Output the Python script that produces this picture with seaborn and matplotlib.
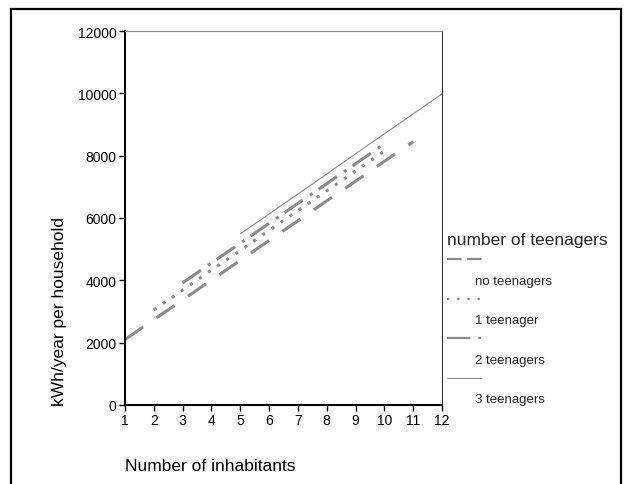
import matplotlib
matplotlib.use("Agg")
import matplotlib.pyplot as plt
from matplotlib.lines import Line2D
from matplotlib.patches import Rectangle
import seaborn as sns
import pandas as pd

# ---- data ----
inhabitants_none = [1, 2, 3, 4, 5, 6, 7, 8, 9, 10, 11]
kwh_none = [2100, 2740, 3370, 4010, 4640, 5280, 5910, 6550, 7180, 7820, 8450]

inhabitants_one = [2, 3, 4, 5, 6, 7, 8, 9, 10]
kwh_one = [3050, 3690, 4330, 4960, 5600, 6240, 6870, 7510, 8150]

inhabitants_two = [3, 4, 5, 6, 7, 8, 9, 10]
kwh_two = [3920, 4560, 5190, 5830, 6470, 7100, 7740, 8380]

inhabitants_three = [5, 6, 7, 8, 9, 10, 11, 12]
kwh_three = [5490, 6130, 6770, 7410, 8060, 8700, 9340, 9980]

series_labels = ["no teenagers", "1 teenager", "2 teenagers", "3 teenagers"]
x_ticks = list(range(1, 13))
y_ticks = [0, 2000, 4000, 6000, 8000, 10000, 12000]

sns.set_theme(style="white")
plt.rcParams["font.family"] = ["Liberation Sans", "DejaVu Sans"]

fig = plt.figure(figsize=(6.26, 4.85), dpi=100)
ax = fig.add_axes([125 / 626, 1 - 406 / 485, (442 - 125) / 626, (406 - 32) / 485])

gray = "#8a8a8a"
styles = [
    dict(lw=2.2, dashes=(7.2, 5.3)),
    dict(lw=2.2, dashes=(1.0, 2.6)),
    dict(lw=2.2, dashes=(7.3, 2.8, 1.0, 2.4)),
    dict(lw=0.8, dashes=None),
]
xs = [inhabitants_none, inhabitants_one, inhabitants_two, inhabitants_three]
ys = [kwh_none, kwh_one, kwh_two, kwh_three]

for xv, yv, lab, st in zip(xs, ys, series_labels, styles):
    df = pd.DataFrame({"Number of inhabitants": xv, "kWh": yv})
    sns.lineplot(data=df, x="Number of inhabitants", y="kWh", ax=ax,
                 color=gray, linewidth=st["lw"], legend=False)
    line = ax.lines[-1]
    line.set_solid_capstyle("butt")
    line.set_dash_capstyle("butt")
    if st["dashes"] is not None:
        line.set_dashes(st["dashes"])

ax.set_xlim(1, 12)
ax.set_ylim(0, 12000)
ax.set_xticks(x_ticks)
ax.set_xticklabels([str(t) for t in x_ticks])
ax.set_yticks(y_ticks)
ax.set_yticklabels([str(t) for t in y_ticks])
ax.tick_params(axis="both", which="major", direction="out", length=4, width=1,
               colors="black", labelsize=10, pad=2, bottom=True, left=True)

for side in ["left", "bottom"]:
    ax.spines[side].set_color("black")
    ax.spines[side].set_linewidth(1.5)
ax.spines["top"].set_color("#888888")
ax.spines["top"].set_linewidth(0.8)
ax.spines["right"].set_color("#333333")
ax.spines["right"].set_linewidth(0.8)

ax.set_xlabel("Number of inhabitants", fontsize=12.5, loc="left", labelpad=22, color="black")
ax.set_ylabel("kWh/year per household", fontsize=12.5, loc="bottom", labelpad=8, color="black")

# legend (handle row, then label row)
handle_styles = [
    dict(lw=1.6, dashes=(6.5, 2.6)),
    dict(lw=1.6, dashes=(1.0, 3.6)),
    dict(lw=1.6, dashes=(10.5, 3.6, 1.2, 5)),
    dict(lw=0.8, dashes=None),
]
handles, labels = [], []
for lab, hs in zip(series_labels, handle_styles):
    h = Line2D([], [], color=gray, lw=hs["lw"], solid_capstyle="butt", dash_capstyle="butt")
    if hs["dashes"] is not None:
        h.set_dashes(hs["dashes"])
    handles.append(h)
    labels.append(" ")
    handles.append(Line2D([], [], color="none", lw=0))
    labels.append(lab)

fig.legend(handles, labels, loc="upper left", bbox_to_anchor=(447 / 626, 1 - 233 / 485),
           frameon=False, title="number of teenagers", title_fontsize=12.5, fontsize=9.5,
           handlelength=2.65, handletextpad=-0.53, labelspacing=0.57, alignment="left",
           borderpad=0, borderaxespad=0)

# outer frame
fig.patches.append(Rectangle((11 / 626, -0.05), (621 - 11) / 626, 1.05 - 9.5 / 485,
                             transform=fig.transFigure, fill=False, edgecolor="black",
                             linewidth=1.6, clip_on=False))

fig.savefig("out.png", dpi=100)
